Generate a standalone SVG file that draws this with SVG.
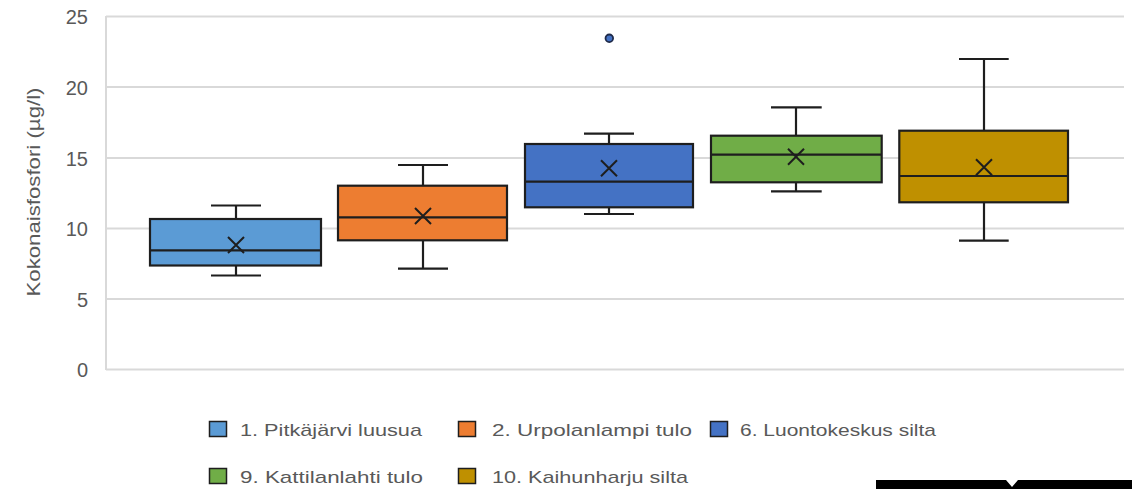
<svg xmlns="http://www.w3.org/2000/svg" width="1132" height="489" viewBox="0 0 1132 489">
<style>
.grid{stroke:#d9d9d9;stroke-width:2;fill:none}
.tick{font-family:"Liberation Sans",Arial,sans-serif;font-size:20px;fill:#595959;text-anchor:end}
.ttl{font-family:"Liberation Sans",Arial,sans-serif;font-size:18px;fill:#595959;text-anchor:middle}
.leg{font-family:"Liberation Sans",Arial,sans-serif;font-size:17px;fill:#595959}
.box{stroke:#1e1e1e;stroke-width:2.2}
.ln{stroke:#1e1e1e;stroke-width:2.2;fill:none}
.mx{stroke:#1e1e1e;stroke-width:2;fill:none}
.sw{stroke:#1e1e1e;stroke-width:1.5}
</style>
<rect width="1132" height="489" fill="#ffffff"/>
<g id="axes">
<line class="grid" x1="106" y1="16.5" x2="1124" y2="16.5"/>
<line class="grid" x1="106" y1="87" x2="1124" y2="87"/>
<line class="grid" x1="106" y1="158" x2="1124" y2="158"/>
<line class="grid" x1="106" y1="228.5" x2="1124" y2="228.5"/>
<line class="grid" x1="106" y1="299" x2="1124" y2="299"/>
<line class="grid" x1="106" y1="369.5" x2="1124" y2="369.5"/>
<line class="grid" x1="106" y1="16" x2="106" y2="370"/>
<text class="tick" x="88" y="24">25</text>
<text class="tick" x="88" y="94.5">20</text>
<text class="tick" x="88" y="165.5">15</text>
<text class="tick" x="88" y="236">10</text>
<text class="tick" x="88" y="306.5">5</text>
<text class="tick" x="88" y="377">0</text>
<text class="ttl" transform="translate(40,192) rotate(-90)" textLength="209" lengthAdjust="spacingAndGlyphs">Kokonaisfosfori (µg/l)</text>
</g>
<g id="box1">
<line class="ln" x1="236" y1="205.5" x2="236" y2="219"/>
<line class="ln" x1="211" y1="205.5" x2="261" y2="205.5"/>
<line class="ln" x1="236" y1="265.5" x2="236" y2="275.5"/>
<line class="ln" x1="211" y1="275.5" x2="261" y2="275.5"/>
<rect class="box" x="150" y="219" width="171" height="46.5" fill="#5b9bd5"/>
<line class="ln" x1="150" y1="250.3" x2="321" y2="250.3"/>
<path class="mx" d="M228 237 L244 253 M244 237 L228 253"/>
</g>
<g id="box2">
<line class="ln" x1="423" y1="165" x2="423" y2="185.7"/>
<line class="ln" x1="398" y1="165" x2="448" y2="165"/>
<line class="ln" x1="423" y1="240.3" x2="423" y2="268.7"/>
<line class="ln" x1="398" y1="268.7" x2="448" y2="268.7"/>
<rect class="box" x="338" y="185.7" width="169" height="54.6" fill="#ed7d31"/>
<line class="ln" x1="338" y1="217.3" x2="507" y2="217.3"/>
<path class="mx" d="M415 208 L431 224 M431 208 L415 224"/>
</g>
<g id="box3">
<line class="ln" x1="609" y1="133.7" x2="609" y2="144"/>
<line class="ln" x1="584" y1="133.7" x2="634" y2="133.7"/>
<line class="ln" x1="609" y1="207.3" x2="609" y2="214"/>
<line class="ln" x1="584" y1="214" x2="634" y2="214"/>
<rect class="box" x="525" y="144" width="168" height="63.3" fill="#4472c4"/>
<line class="ln" x1="525" y1="181.7" x2="693" y2="181.7"/>
<path class="mx" d="M601 160.3 L617 176.3 M617 160.3 L601 176.3"/>
<circle cx="609.3" cy="38.3" r="3.8" fill="#4472c4" stroke="#1f2a4a" stroke-width="1.8"/>
</g>
<g id="box4">
<line class="ln" x1="796" y1="107.3" x2="796" y2="135.7"/>
<line class="ln" x1="771" y1="107.3" x2="821.7" y2="107.3"/>
<line class="ln" x1="796" y1="182.3" x2="796" y2="191.3"/>
<line class="ln" x1="771" y1="191.3" x2="821.7" y2="191.3"/>
<rect class="box" x="711" y="135.7" width="170.7" height="46.6" fill="#70ad47"/>
<line class="ln" x1="711" y1="154.7" x2="881.7" y2="154.7"/>
<path class="mx" d="M788 148.7 L804 164.7 M804 148.7 L788 164.7"/>
</g>
<g id="box5">
<line class="ln" x1="984" y1="59" x2="984" y2="130.7"/>
<line class="ln" x1="959" y1="59" x2="1008.7" y2="59"/>
<line class="ln" x1="984" y1="202.3" x2="984" y2="240.7"/>
<line class="ln" x1="959" y1="240.7" x2="1008.7" y2="240.7"/>
<rect class="box" x="899.3" y="130.7" width="168.7" height="71.6" fill="#bf9000"/>
<line class="ln" x1="899.3" y1="176" x2="1068" y2="176"/>
<path class="mx" d="M976 159.3 L992 175.3 M992 159.3 L976 175.3"/>
</g>
<g id="legend">
<rect class="sw" x="209.5" y="421.5" width="17" height="15" fill="#5b9bd5"/>
<text class="leg" x="240" y="436" textLength="182" lengthAdjust="spacingAndGlyphs">1. Pitkäjärvi luusua</text>
<rect class="sw" x="458.5" y="421.5" width="17" height="15" fill="#ed7d31"/>
<text class="leg" x="492" y="436" textLength="200" lengthAdjust="spacingAndGlyphs">2. Urpolanlampi tulo</text>
<rect class="sw" x="710.5" y="421.5" width="17" height="15" fill="#4472c4"/>
<text class="leg" x="740" y="436" textLength="196" lengthAdjust="spacingAndGlyphs">6. Luontokeskus silta</text>
<rect class="sw" x="209.5" y="468.5" width="17" height="15" fill="#70ad47"/>
<text class="leg" x="240" y="483" textLength="183" lengthAdjust="spacingAndGlyphs">9. Kattilanlahti tulo</text>
<rect class="sw" x="458.5" y="468.5" width="17" height="15" fill="#bf9000"/>
<text class="leg" x="492" y="483" textLength="196" lengthAdjust="spacingAndGlyphs">10. Kaihunharju silta</text>
</g>
<g id="corner">
<polygon points="876,480 1006,480 1012,487 1018,480 1132,480 1132,489 876,489" fill="#000000"/>
</g>
</svg>
